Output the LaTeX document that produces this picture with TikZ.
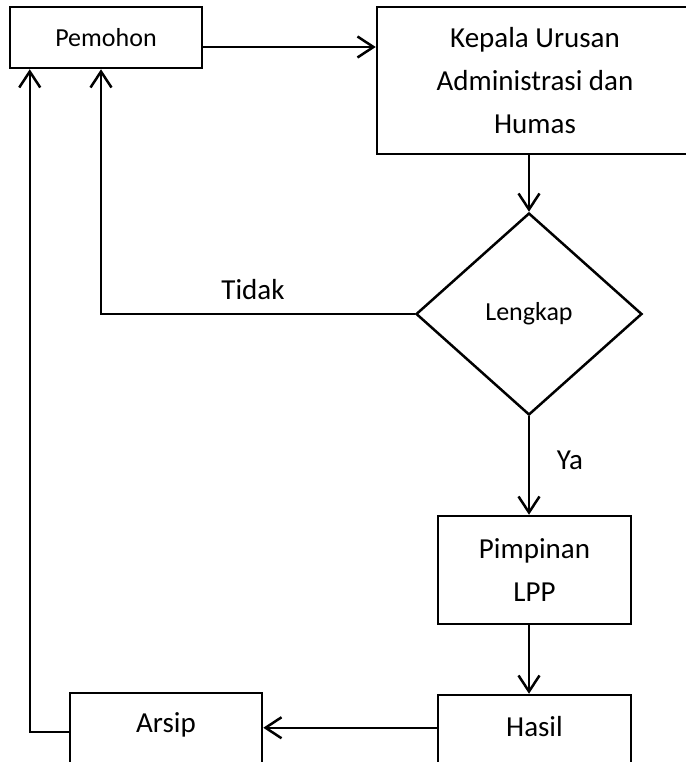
\documentclass[tikz,border=0pt]{standalone}
\usepackage{fontspec}
\setmainfont{Carlito}
\usetikzlibrary{shapes.geometric,arrows.meta}
\begin{document}
\begin{tikzpicture}[x=1pt,y=-1pt]
		\tikzstyle{every node}=[font=\fontsize{29pt}{43pt}\selectfont]
		\tikzstyle{box}=[draw, line width=2.5pt, inner sep=0pt, align=center]
		\tikzstyle{small}=[font=\fontsize{26pt}{32pt}\selectfont]
		\tikzstyle{arr}=[line width=2.5pt, -{Straight Barb[length=16pt,width=21pt]}]
		
		\useasboundingbox (0,0) rectangle (685,762);
		
		\node[box, small, minimum width=192pt, minimum height=61pt] (pemohon) at (106,37.5) {Pemohon};
		\node[box, minimum width=316pt, minimum height=147pt] (kepala) at (535,80.5) {Kepala Urusan\\Administrasi dan\\Humas};
		\node[draw, line width=2.5pt, diamond, small, inner sep=0pt, minimum width=226pt, minimum height=202pt] (lengkap) at (529,314) {Lengkap};
		\node[box, minimum width=193pt, minimum height=108pt] (pimpinan) at (534.5,570) {Pimpinan\\LPP};
		\node[box, minimum width=193pt, minimum height=100pt, text depth=38pt] (hasil) at (534.5,745) {Hasil};
		\node[box, minimum width=192pt, minimum height=100pt, text depth=40pt] (arsip) at (166,743) {Arsip};
		
		\node (tidak) at (253,290) {Tidak};
		\node (ya) at (570,460) {Ya};
		
		\coordinate (p1) at ([yshift=-9.5pt]pemohon.east);
		\coordinate (h1) at ([yshift=-34pt]hasil.north west);
		\coordinate (a1) at ([yshift=-40pt]arsip.north west);
		
		\draw[arr] (p1) -- (p1 -| kepala.west);
		\draw[arr] (kepala.south -| lengkap.north) -- (lengkap.north);
		\draw[arr] (lengkap.west) -| ([xshift=-5pt]pemohon.south);
		\draw[arr] (lengkap.south) -- (lengkap.south |- pimpinan.north);
		\draw[arr] (lengkap.south |- pimpinan.south) -- (lengkap.south |- hasil.north);
		\draw[arr] (h1) -- (h1 -| arsip.east);
		\draw[arr] (a1) -| ([xshift=21pt]pemohon.south west);
		
	\end{tikzpicture}
\end{document}
